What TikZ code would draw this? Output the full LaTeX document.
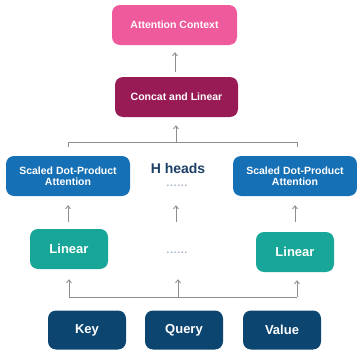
\documentclass[tikz,border=0pt]{standalone}
\usepackage{fontspec}
\setmainfont{Liberation Sans}
\usetikzlibrary{arrows.meta,calc}
\definecolor{ctxpink}{HTML}{EE5A9B}
\definecolor{catmaroon}{HTML}{981B56}
\definecolor{sdpblue}{HTML}{1670B5}
\definecolor{lintea}{HTML}{18A698}
\definecolor{inpnavy}{HTML}{0C4670}
\definecolor{headnavy}{HTML}{1C3F66}
\definecolor{wire}{HTML}{8E8E8E}
\tikzset{
  x=1pt, y=-1pt,
  box/.style={rounded corners=8pt, text=white, font=\bfseries, align=center,
    inner sep=0pt, minimum height=40pt},
  small/.style={font=\bfseries\fontsize{10.5}{12}\selectfont},
  big/.style={font=\bfseries\fontsize{13}{15}\selectfont},
  arr/.style={draw=wire, line width=0.9pt, -{Straight Barb[length=3pt,width=5pt]}},
  wireline/.style={draw=wire, line width=0.9pt},
  dots/.style={text=headnavy!50, font=\fontsize{13}{13}\selectfont, inner sep=0pt,
    text height=2pt, text depth=0pt}
}
\begin{document}
\begin{tikzpicture}
\useasboundingbox (0,0) rectangle (357,351);
% boxes
\node[box, small, fill=ctxpink, minimum width=125pt] (ctx) at (174.5,25) {Attention Context};
\node[box, small, fill=catmaroon, minimum width=123pt] (cat) at (176.5,97) {Concat and Linear};
\node[box, small, fill=sdpblue, minimum width=124pt] (sdl) at (68,176) {Scaled Dot-Product\\[-1pt]Attention};
\node[box, small, fill=sdpblue, minimum width=124pt] (sdr) at (295,176) {Scaled Dot-Product\\[-1pt]Attention};
\node[text=headnavy, font=\bfseries\fontsize{14}{16}\selectfont, inner sep=0pt] (heads) at (178,168) {H heads};
\node[dots] (hdots) at (177,185) {......};
\node[box, big, fill=lintea, minimum width=78pt] (linl) at (69,249) {Linear};
\node[box, big, fill=lintea, minimum width=78pt] (linr) at (295,252) {Linear};
\node[dots] (ldots) at (177,252) {......};
\node[box, big, fill=inpnavy, minimum width=78pt, minimum height=39pt] (key) at (87,330) {Key};
\node[box, big, fill=inpnavy, minimum width=78pt, minimum height=39pt] (query) at (184,330) {Query};
\node[box, big, fill=inpnavy, minimum width=78pt, minimum height=39pt] (value) at (282,330) {Value};

% output of the concat step
\draw[arr] ($(cat.north)+(-1.5,-5)$) -- ($(ctx.south)+(0.5,7)$);
% heads merge into concat
\draw[arr] ($(cat.south)+(-0.5,25)$) coordinate (mid) -- ($(cat.south)+(-0.5,8)$);
\draw[wireline] ($(sdl.north)+(0,-9)$) |- (mid) -| ($(sdr.north)+(2,-9)$);

% linear projections feed the attention heads
\coordinate (tl) at ($(sdl.south)+(0,26)$);
\coordinate (tm) at ($(sdl.south)+(108,26)$);
\coordinate (tr) at ($(sdr.south)+(0,26)$);
\draw[arr] (tl) -- ($(sdl.south)+(0,9)$);
\draw[arr] (tm) -- ($(sdl.south)+(108,9)$);
\draw[arr] (tr) -- ($(sdr.south)+(0,9)$);

% inputs distributed to every projection
\coordinate (bl) at ($(linl.south)+(0,28)$);
\coordinate (bm) at ($(linl.south)+(109,28)$);
\coordinate (br) at ($(linr.south)+(2,25)$);
\draw[wireline] (bl) -- (br);
\draw[arr] (bl) -- ($(linl.south)+(0,10)$);
\draw[arr] (bm) -- ($(linl.south)+(109,10)$);
\draw[arr] (br) -- ($(linr.south)+(2,8)$);
\end{tikzpicture}
\end{document}
